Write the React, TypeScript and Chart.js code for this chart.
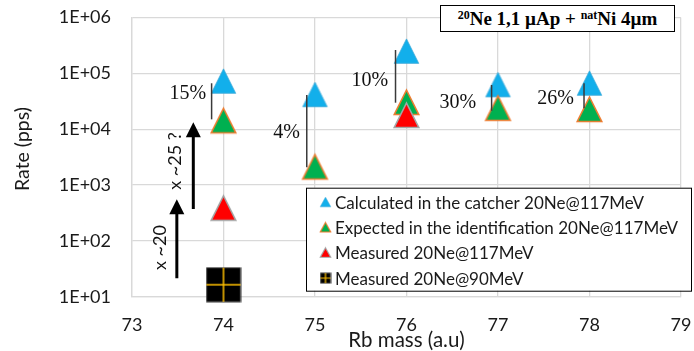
import React, { useEffect, useRef } from 'react';
import { Chart, registerables } from 'chart.js';

Chart.register(...registerables);

// ---- data ----
const masses = [74, 75, 76, 77, 78];
const calculated = [72000, 41400, 248000, 62300, 66300];
const expected = [14100, 2100, 30000, 23600, 22500];
const measured117Mass = [74, 76];
const measured117 = [383, 17600];
const measured90Mass = [74];
const measured90 = [16.4];
const seriesLabels = [
  'Calculated in the catcher 20Ne@117MeV',
  'Expected in the identification 20Ne@117MeV',
  'Measured 20Ne@117MeV',
  'Measured 20Ne@90MeV',
];
const xTicks = [73, 74, 75, 76, 77, 78, 79];
const yTicks = [10, 100, 1000, 10000, 100000, 1000000];
const yTickLabels = ['1E+01', '1E+02', '1E+03', '1E+04', '1E+05', '1E+06'];
const xTitle = 'Rb mass (a.u)';
const yTitle = 'Rate (pps)';

// ratio annotations (data units)
const ratioLabels = ['15%', '4%', '10%', '30%', '26%'];
const ratioLabelX = [73.61, 74.69, 75.6, 76.56, 77.63];
const ratioLabelY = [46300, 9280, 77600, 32000, 36900];
const ratioLineX = [73.87, 74.91, 75.88, 76.93, 77.94];
const ratioLineTop = [66400, 41000, 262000, 61800, 66400];
const ratioLineBottom = [15000, 2080, 29800, 21400, 23600];

// gain arrows (data units)
const arrowLabels = ['x ~20', 'x ~25 ?'];
const arrowX = [73.49, 73.67];
const arrowFrom = [21.4, 372];
const arrowTo = [555, 13300];
const arrowLabelX = [73.305, 73.47];
const arrowLabelY = [76, 2690];

// ---- marker images ----
function triangleMarker(w: number, h: number, fill: string, stroke: string, lw: number) {
  const c = document.createElement('canvas');
  const pad = Math.ceil(lw) + 1;
  c.width = Math.round(w + 2 * pad);
  c.height = Math.round(h + 2 * pad);
  const ctx = c.getContext('2d')!;
  ctx.beginPath();
  ctx.moveTo(c.width / 2, pad);
  ctx.lineTo(c.width / 2 + w / 2, pad + h);
  ctx.lineTo(c.width / 2 - w / 2, pad + h);
  ctx.closePath();
  ctx.fillStyle = fill;
  ctx.fill();
  if (lw > 0) {
    ctx.strokeStyle = stroke;
    ctx.lineWidth = lw;
    ctx.lineJoin = 'miter';
    ctx.stroke();
  }
  return c;
}

function squareMarker(s: number) {
  const c = document.createElement('canvas');
  c.width = s + 2;
  c.height = s + 2;
  const ctx = c.getContext('2d')!;
  ctx.fillStyle = '#000000';
  ctx.fillRect(1, 1, s, s);
  ctx.strokeStyle = '#3a3a3a';
  ctx.lineWidth = 1;
  ctx.strokeRect(1, 1, s, s);
  ctx.strokeStyle = '#FFC000';
  ctx.lineWidth = s > 20 ? 1.5 : 1.2;
  ctx.beginPath();
  ctx.moveTo(c.width / 2, 1);
  ctx.lineTo(c.width / 2, s + 1);
  ctx.moveTo(1, c.height / 2);
  ctx.lineTo(s + 1, c.height / 2);
  ctx.stroke();
  return c;
}

const BLUE = '#12AFEB';
const GREEN = '#00B050';
const ORANGE = '#ED7D31';
const RED = '#FF0000';
const GREY = '#A5A5A5';

export default function App() {
  const ref = useRef<HTMLCanvasElement | null>(null);

  useEffect(() => {
    const canvas = ref.current;
    if (!canvas) return;

    const big = [
      triangleMarker(24.5, 24.5, BLUE, '#3FA9D8', 0.8),
      triangleMarker(24.5, 24.5, GREEN, ORANGE, 1.6),
      triangleMarker(24.5, 24.5, RED, GREY, 1.6),
      squareMarker(34),
    ];
    const small = [
      triangleMarker(10.5, 9.5, BLUE, '#3FA9D8', 0.6),
      triangleMarker(10.5, 9.5, GREEN, ORANGE, 1.1),
      triangleMarker(10.5, 9.5, RED, GREY, 1.1),
      squareMarker(10),
    ];

    const toXY = (xs: number[], ys: number[]) => xs.map((x, i) => ({ x, y: ys[i] }));

    const annotations = {
      id: 'annotations',
      afterDatasetsDraw(chart: any) {
        const { ctx } = chart;
        const xs = chart.scales.x;
        const ys = chart.scales.y;
        ctx.save();
        // ratio lines
        ctx.strokeStyle = '#3a3a3a';
        ctx.lineWidth = 1.5;
        ratioLineX.forEach((mx, i) => {
          const px = xs.getPixelForValue(mx);
          ctx.beginPath();
          ctx.moveTo(px, ys.getPixelForValue(ratioLineTop[i]));
          ctx.lineTo(px, ys.getPixelForValue(ratioLineBottom[i]));
          ctx.stroke();
        });
        // ratio labels
        ctx.fillStyle = '#111111';
        ctx.font = '20px "Liberation Serif", "Times New Roman", serif';
        ctx.textAlign = 'center';
        ctx.textBaseline = 'alphabetic';
        ratioLabels.forEach((t, i) => {
          ctx.fillText(t, xs.getPixelForValue(ratioLabelX[i]), ys.getPixelForValue(ratioLabelY[i]) + 6.8);
        });
        // arrows
        ctx.fillStyle = '#000000';
        ctx.strokeStyle = '#000000';
        arrowX.forEach((mx, i) => {
          const px = xs.getPixelForValue(mx);
          const y0 = ys.getPixelForValue(arrowFrom[i]);
          const y1 = ys.getPixelForValue(arrowTo[i]);
          const head = 15;
          ctx.lineWidth = 3;
          ctx.beginPath();
          ctx.moveTo(px, y0);
          ctx.lineTo(px, y1 + head - 1);
          ctx.stroke();
          ctx.beginPath();
          ctx.moveTo(px, y1);
          ctx.lineTo(px + 7.5, y1 + head);
          ctx.lineTo(px - 7.5, y1 + head);
          ctx.closePath();
          ctx.fill();
        });
        ctx.font = '18px Lato, sans-serif';
        ctx.textAlign = 'center';
        ctx.textBaseline = 'middle';
        ctx.fillStyle = '#111111';
        arrowLabels.forEach((t, i) => {
          ctx.save();
          ctx.translate(xs.getPixelForValue(arrowLabelX[i]), ys.getPixelForValue(arrowLabelY[i]));
          ctx.rotate(-Math.PI / 2);
          ctx.fillText(t, 0, 0);
          ctx.restore();
        });

        // legend
        const ca = chart.chartArea;
        const lx = ca.right - 375;
        const ly = ca.bottom - 109;
        const lw = 385;
        const lh = 103;
        ctx.fillStyle = '#ffffff';
        ctx.fillRect(lx, ly, lw, lh);
        ctx.strokeStyle = '#000000';
        ctx.lineWidth = 1;
        ctx.strokeRect(lx + 0.5, ly + 0.5, lw, lh);
        ctx.font = '17px Lato, sans-serif';
        ctx.textAlign = 'left';
        ctx.textBaseline = 'middle';
        ctx.fillStyle = '#1a1a1a';
        chart.data.datasets.forEach((ds: any, i: number) => {
          const rowY = ly + 14.5 + i * 25.3;
          const m = small[i];
          ctx.drawImage(m, lx + 19.5 - m.width / 2, rowY - m.height / 2);
          ctx.fillText(ds.label, lx + 29, rowY + 1);
        });

        // axis titles
        ctx.fillStyle = '#1a1a1a';
        ctx.textAlign = 'center';
        ctx.textBaseline = 'middle';
        ctx.font = '20.5px Lato, sans-serif';
        ctx.fillText(xTitle, (ca.left + ca.right) / 2, ca.bottom + 43.5);
        ctx.font = '19.5px Lato, sans-serif';
        ctx.save();
        ctx.translate(23, ca.top + 131.5);
        ctx.rotate(-Math.PI / 2);
        ctx.fillText(yTitle, 0, 0);
        ctx.restore();
        ctx.restore();
      },
    };

    const chart = new Chart(canvas, {
      type: 'scatter',
      data: {
        datasets: [
          { label: seriesLabels[0], data: toXY(masses, calculated), pointStyle: big[0], pointRadius: 12, order: 4, clip: false },
          { label: seriesLabels[1], data: toXY(masses, expected), pointStyle: big[1], pointRadius: 12, order: 3, clip: false },
          { label: seriesLabels[2], data: toXY(measured117Mass, measured117), pointStyle: big[2], pointRadius: 12, order: 2, clip: false },
          { label: seriesLabels[3], data: toXY(measured90Mass, measured90), pointStyle: big[3], pointRadius: 12, order: 1, clip: false },
        ] as any,
      },
      options: {
        animation: false,
        responsive: false,
        maintainAspectRatio: false,
        events: [],
        layout: { padding: { top: 17.5, right: 11, left: 0, bottom: 0 } },
        plugins: {
          legend: { display: false },
          tooltip: { enabled: false },
          title: { display: false },
        },
        scales: {
          x: {
            type: 'linear',
            min: 73,
            max: 79,
            afterBuildTicks: (s: any) => {
              s.ticks = xTicks.map((v) => ({ value: v }));
            },
            afterFit: (s: any) => {
              s.height = 54.3;
            },
            grid: { color: '#D9D9D9', lineWidth: 1.3, drawTicks: true, tickLength: 18, tickColor: 'rgba(0,0,0,0)' },
            border: { color: '#D9D9D9', width: 1.3 },
            ticks: {
              autoSkip: false,
              padding: 0,
              maxRotation: 0,
              color: '#1a1a1a',
              font: { family: 'Lato, sans-serif', size: 18 },
              callback: (v: any) => String(v),
            },
          },
          y: {
            type: 'logarithmic',
            min: 10,
            max: 1000000,
            afterBuildTicks: (s: any) => {
              s.ticks = yTicks.map((v) => ({ value: v }));
            },
            afterFit: (s: any) => {
              s.width = 132;
            },
            grid: { color: '#D9D9D9', lineWidth: 1.3, drawTicks: true, tickLength: 21, tickColor: 'rgba(0,0,0,0)' },
            border: { color: '#D9D9D9', width: 1.3 },
            ticks: {
              autoSkip: false,
              padding: 0,
              color: '#1a1a1a',
              font: { family: 'Lato, sans-serif', size: 18 },
              callback: (v: any) => {
                const i = yTicks.indexOf(Number(v));
                return i >= 0 ? yTickLabels[i] : '';
              },
            },
          },
        },
      } as any,
      plugins: [annotations],
    });

    return () => chart.destroy();
  }, []);

  return (
    <div style={{ position: 'absolute', left: 0, top: 0, width: 694, height: 351, background: '#ffffff' }}>
      <canvas ref={ref} width={694} height={351} style={{ display: 'block' }} />
      <div
        style={{
          position: 'absolute',
          left: 440,
          top: 5,
          width: 235,
          height: 27,
          boxSizing: 'border-box',
          border: '1.5px solid #000',
          background: '#fff',
          fontFamily: '"Liberation Serif", "Times New Roman", serif',
          fontWeight: 'bold',
          fontSize: 19,
          lineHeight: '25px',
          textAlign: 'center',
          whiteSpace: 'nowrap',
          color: '#000',
        }}
      >
        <sup style={{ fontSize: 12, lineHeight: 0, verticalAlign: 6 }}>20</sup>Ne 1,1 µAp +{' '}
        <sup style={{ fontSize: 12, lineHeight: 0, verticalAlign: 6 }}>nat</sup>Ni 4µm
      </div>
    </div>
  );
}
